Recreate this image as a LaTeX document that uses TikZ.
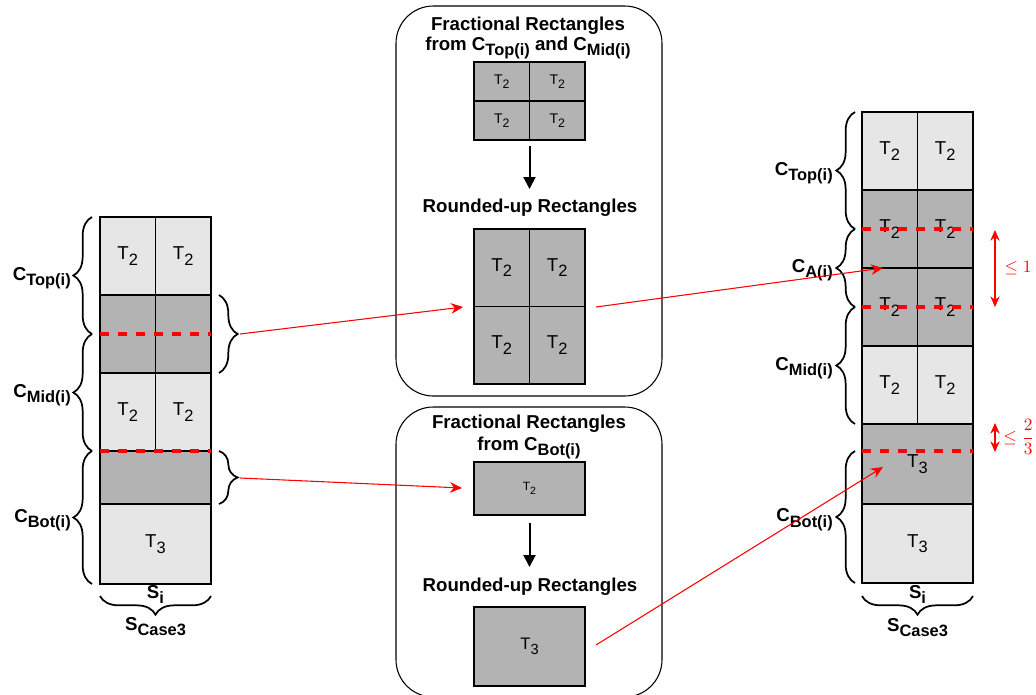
\documentclass[tikz,border=0pt]{standalone}
\usepackage{fontspec}
\setmainfont{Liberation Sans}
\usepackage{graphicx}
\usetikzlibrary{decorations.pathreplacing,arrows.meta}

\definecolor{lightcell}{HTML}{E6E6E6}
\definecolor{darkcell}{HTML}{B3B3B3}
\definecolor{redline}{HTML}{FF0000}

% lowered, slightly smaller subscript as used in the labels
\newcommand{\lowsub}[1]{\raisebox{-0.3em}{\scalebox{0.88}{#1}}}
\newcommand{\Ttwo}{T\lowsub{2}}
\newcommand{\Tthree}{T\lowsub{3}}

\begin{document}
\begin{tikzpicture}[x=0.75pt,y=-0.75pt,
  cell/.style={draw=black, line width=0.8pt, inner sep=0pt, outer sep=0pt,
               font=\fontsize{14}{16}\selectfont},
  lt/.style={cell, fill=lightcell},
  dk/.style={cell, fill=darkcell},
  smallT/.style={font=\fontsize{10.5}{12}\selectfont},
  sz/.style 2 args={minimum width=#1*0.75pt, minimum height=#2*0.75pt},
  title/.style={font=\fontsize{14}{17}\selectfont\bfseries, inner sep=0pt, anchor=base},
  lbl/.style={font=\fontsize{14}{17}\selectfont\bfseries, inner sep=0pt},
  curly/.style={decorate, decoration={brace, amplitude=14pt}, line width=1.3pt},
  cut/.style={draw=redline, line width=2.3pt, dash pattern=on 7pt off 6.5pt},
  link/.style={draw=redline, line width=0.8pt, -{Stealth[length=9pt,width=8pt]}},
  flow/.style={line width=1.5pt, -{Triangle[length=9pt,width=9pt]}},
  gap/.style={draw=redline, line width=0.8pt,
              {Stealth[length=8pt,width=7pt]}-{Stealth[length=8pt,width=7pt]}},
  box/.style={draw=black, line width=0.8pt, rounded corners=28pt, inner sep=0pt},
  redlbl/.style={text=redline, inner sep=0pt}
]
\useasboundingbox (0,0) rectangle (1036,694);

% ---------------- middle: the two rounded panels ----------------
\node[box, sz={266}{390}] (topbox) at (529,201) {};
\node[box, sz={266}{290}] (botbox) at (529,552) {};

% ---------------- left strip S_i ----------------
\node[lt, sz={55.5}{78}] (L1a) at (127.75,256) {\Ttwo};
\node[lt, sz={55.5}{78}] (L1b) at (183.25,256) {\Ttwo};
\node[dk, sz={55.5}{78}] (L2a) at (127.75,334) {};
\node[dk, sz={55.5}{78}] (L2b) at (183.25,334) {};
\node[lt, sz={55.5}{78}] (L3a) at (127.75,412) {\Ttwo};
\node[lt, sz={55.5}{78}] (L3b) at (183.25,412) {\Ttwo};
\node[dk, sz={111}{53}]  (L4)  at (155.5,477.5) {};
\node[lt, sz={111}{80}]  (L5)  at (155.5,544) {\Tthree};

\coordinate (lc1a) at (100,334);  \coordinate (lc1b) at (211,334);
\coordinate (lc2a) at (100,451);  \coordinate (lc2b) at (211,451);
\draw[cut] (lc1a) -- (lc1b);
\draw[cut] (lc2a) -- (lc2b);

% braces of the left strip
\draw[curly] (92,334) -- (92,217);
\draw[curly] (92,451) -- (92,334);
\draw[curly] (92,584) -- (92,451);
\draw[curly] (219,295) -- (219,373);
\draw[curly] (219,451) -- (219,504);
\draw[curly] (211,596) -- (100,596);

\node[lbl, anchor=base east] (ltop) at (71,280) {C\lowsub{Top(i)}};
\node[lbl, anchor=base east] (lmid) at (71,397) {C\lowsub{Mid(i)}};
\node[lbl, anchor=base east] (lbot) at (71,522) {C\lowsub{Bot(i)}};
\node[lbl, anchor=base] (lsi) at (155.5,598) {S\lowsub{i}};
\node[lbl, anchor=base] (lcase) at (155.5,630) {S\lowsub{Case3}};

% ---------------- top panel ----------------
\node[title] (t1a) at (528,30) {Fractional Rectangles};
\node[title] (t1b) at (528,50) {from C\lowsub{Top(i)} and C\lowsub{Mid(i)}};

\node[dk, smallT, sz={55.5}{39}] (F1) at (501.75,81.5)  {\Ttwo};
\node[dk, smallT, sz={55.5}{39}] (F2) at (557.25,81.5)  {\Ttwo};
\node[dk, smallT, sz={55.5}{39}] (F3) at (501.75,120.5) {\Ttwo};
\node[dk, smallT, sz={55.5}{39}] (F4) at (557.25,120.5) {\Ttwo};

\node[title] (t1c) at (530,212) {Rounded-up Rectangles};

\node[dk, sz={55.5}{77.5}] (G1) at (501.75,267.75) {\Ttwo};
\node[dk, sz={55.5}{77.5}] (G2) at (557.25,267.75) {\Ttwo};
\node[dk, sz={55.5}{77.5}] (G3) at (501.75,345.25) {\Ttwo};
\node[dk, sz={55.5}{77.5}] (G4) at (557.25,345.25) {\Ttwo};

\coordinate (fa1) at (529.5,146);
\coordinate (fb1) at (529.5,189);
\draw[flow] (fa1) -- (fb1);

% ---------------- bottom panel ----------------
\node[title] (t2a) at (529,428) {Fractional Rectangles};
\node[title] (t2b) at (529,450) {from C\lowsub{Bot(i)}};
\node[dk, sz={111}{53}, font=\fontsize{9}{11}\selectfont] (H1) at (529.5,488.5) {\Ttwo};
\node[title] (t2c) at (530,591) {Rounded-up Rectangles};
\node[dk, sz={111}{79}, font=\fontsize{12.5}{15}\selectfont] (H2) at (529.5,646.5) {\Tthree};

\coordinate (fa2) at (529.5,523);
\coordinate (fb2) at (529.5,567);
\draw[flow] (fa2) -- (fb2);

% ---------------- right strip S_i ----------------
\node[lt, sz={55.5}{78}] (R1a) at (889.75,151) {\Ttwo};
\node[lt, sz={55.5}{78}] (R1b) at (945.25,151) {\Ttwo};
\node[dk, sz={55.5}{78}] (R2a) at (889.75,229) {\Ttwo};
\node[dk, sz={55.5}{78}] (R2b) at (945.25,229) {\Ttwo};
\node[dk, sz={55.5}{78}] (R3a) at (889.75,307) {\Ttwo};
\node[dk, sz={55.5}{78}] (R3b) at (945.25,307) {\Ttwo};
\node[lt, sz={55.5}{78}] (R4a) at (889.75,385) {\Ttwo};
\node[lt, sz={55.5}{78}] (R4b) at (945.25,385) {\Ttwo};
\node[dk, sz={111}{80}]  (R5)  at (917.5,464) {\Tthree};
\node[lt, sz={111}{79}]  (R6)  at (917.5,543.5) {\Tthree};

\coordinate (rc1a) at (862,229);  \coordinate (rc1b) at (973,229);
\coordinate (rc2a) at (862,307);  \coordinate (rc2b) at (973,307);
\coordinate (rc3a) at (862,451);  \coordinate (rc3b) at (973,451);
\draw[cut] (rc1a) -- (rc1b);
\draw[cut] (rc2a) -- (rc2b);
\draw[cut] (rc3a) -- (rc3b);

\draw[curly] (855,229) -- (855,112);
\draw[curly] (855,307) -- (855,229);
\draw[curly] (855,424) -- (855,307);
\draw[curly] (855,583) -- (855,451);
\draw[curly] (973,596) -- (862,596);

\node[lbl, anchor=base east] (rtop) at (833,175)   {C\lowsub{Top(i)}};
\node[lbl, anchor=base east] (ra)   at (833,272)   {C\lowsub{A(i)}};
\node[lbl, anchor=base east] (rmid) at (833,370)   {C\lowsub{Mid(i)}};
\node[lbl, anchor=base east] (rbot) at (833,521.5) {C\lowsub{Bot(i)}};
\node[lbl, anchor=base] (rsi) at (917.5,598) {S\lowsub{i}};
\node[lbl, anchor=base] (rcase) at (917.5,631) {S\lowsub{Case3}};

% height bounds
\coordinate (g1a) at (995,230); \coordinate (g1b) at (995,307);
\coordinate (g2a) at (995,423); \coordinate (g2b) at (995,452);
\draw[gap] (g1a) -- (g1b);
\draw[gap] (g2a) -- (g2b);
\node[redlbl] (b1) at (1018,268) {\scalebox{1.3}{$\leq 1$}};
\node[redlbl] (b2) at (1019,437) {\scalebox{1.3}{$\leq \displaystyle\frac{2}{3}$}};

% ---------------- red links between the strips and panels ----------------
\coordinate (s1) at (240,334);  \coordinate (e1) at (463,307);
\coordinate (s2) at (596,307);  \coordinate (e2) at (883,268);
\coordinate (s3) at (240,478);  \coordinate (e3) at (462,488);
\coordinate (s4) at (596,645);  \coordinate (e4) at (883,467);
\draw[link] (s1) -- (e1);
\draw[link] (s2) -- (e2);
\draw[link] (s3) -- (e3);
\draw[link] (s4) -- (e4);
\end{tikzpicture}
\end{document}
